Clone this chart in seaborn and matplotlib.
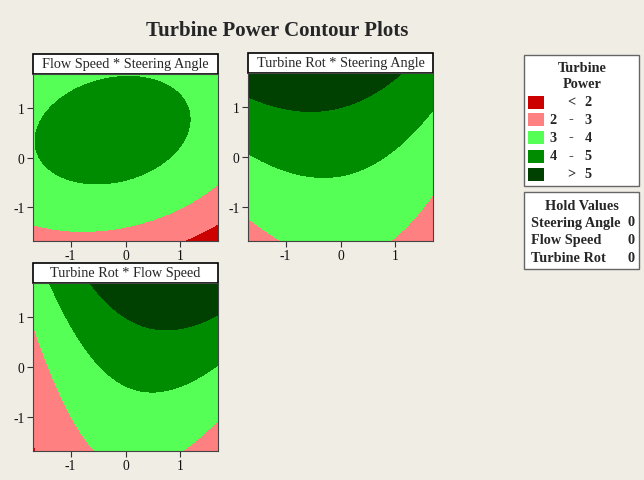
import numpy as np
import matplotlib
matplotlib.use('Agg')
import matplotlib.pyplot as plt
from matplotlib.patches import Rectangle
import seaborn as sns

# fitted response surface, coded units (flow, steer, rot)
intercept = 4.261
linear = [0.410, -0.157, 0.704]          # flow, steer, rot
quadratic = [-0.349, -0.206, 0.044]      # flow^2, steer^2, rot^2
interaction = [0.109, 0.144, -0.072]     # flow*steer, flow*rot, steer*rot

panel_names = ['Flow Speed * Steering Angle', 'Turbine Rot * Steering Angle', 'Turbine Rot * Flow Speed']
levels = [2, 3, 4, 5]
legend_rows = [('', '<', '2'), ('2', '-', '3'), ('3', '-', '4'), ('4', '-', '5'), ('', '>', '5')]
hold_names = ['Steering Angle', 'Flow Speed', 'Turbine Rot']
hold_values = [0, 0, 0]
ticks = [-1, 0, 1]


def power(f, s, t):
    return (intercept + linear[0]*f + linear[1]*s + linear[2]*t
            + quadratic[0]*f*f + quadratic[1]*s*s + quadratic[2]*t*t
            + interaction[0]*f*s + interaction[1]*f*t + interaction[2]*s*t)


bg = '#F0EDE5'
colors = sns.color_palette(['#CC0000', '#FF8080', '#55FF55', '#008C00', '#004000'])
sns.set_style('white')
plt.rcParams['font.family'] = ['Liberation Serif', 'DejaVu Serif']
plt.rcParams['axes.unicode_minus'] = False

fig = plt.figure(figsize=(6.44, 4.81), dpi=100, facecolor=bg)


def box(px0, py0, px1, py1):
    return [px0/644, 1 - py1/481, (px1-px0)/644, (py1-py0)/481]


lim = 1.682
g = np.linspace(-lim, lim, 300)
xx, yy = np.meshgrid(g, g)
surfaces = [power(yy, xx, hold_values[2]), power(hold_values[1], xx, yy), power(xx, hold_values[0], yy)]
positions = [box(33, 75, 218, 242), box(248, 74, 433, 242), box(33, 284, 218, 452)]

for name, pos, z in zip(panel_names, positions, surfaces):
    ax = fig.add_axes(pos)
    ax.contourf(xx, yy, z, levels=[-100] + levels + [100], colors=colors)
    ax.set_xlim(-lim, lim)
    ax.set_ylim(-lim, lim)
    ax.set_xticks(ticks)
    ax.set_yticks(ticks)
    ax.tick_params(length=4, width=0.8, color='#333333', labelsize=9.8, labelcolor='#111111',
                   pad=2, direction='out', bottom=True, left=True)
    for sp in ax.spines.values():
        sp.set_color('#444444')
        sp.set_linewidth(0.8)
    ax.add_patch(Rectangle((0, 1), 1, 0.12, transform=ax.transAxes, clip_on=False,
                           fc='white', ec='black', lw=1.2))
    ax.text(0.5, 1.06, name, transform=ax.transAxes, ha='center', va='center', fontsize=10.3)

fig.text(277/644, 1 - 31/481, 'Turbine Power Contour Plots', ha='center', va='center',
         fontsize=15, fontweight='bold')


def fx(px):
    return px/644


def fy(py):
    return 1 - py/481


fs = 10.3
# legend box
fig.patches.append(Rectangle((fx(524), fy(187)), fx(639)-fx(524), fy(56)-fy(187),
                             transform=fig.transFigure, fc='white', ec='#666666', lw=1))
fig.text(fx(582), fy(69), 'Turbine', ha='center', va='center', fontsize=fs, fontweight='bold')
fig.text(fx(582), fy(85), 'Power', ha='center', va='center', fontsize=fs, fontweight='bold')
row_y = [103, 120, 138, 157, 175]
for (lo, sym, hi), c, py in zip(legend_rows, colors, row_y):
    fig.patches.append(Rectangle((fx(528), fy(py + 6.5)), fx(544)-fx(528), fy(py - 6.5)-fy(py + 6.5),
                                 transform=fig.transFigure, fc=c, ec='none'))
    fig.text(fx(553), fy(py), lo, ha='center', va='center', fontsize=fs, fontweight='bold')
    fig.text(fx(571), fy(py), sym, ha='center', va='center', fontsize=fs, fontweight='bold')
    fig.text(fx(588), fy(py), hi, ha='center', va='center', fontsize=fs, fontweight='bold')

# hold values box
fig.patches.append(Rectangle((fx(524), fy(270)), fx(639)-fx(524), fy(193)-fy(270),
                             transform=fig.transFigure, fc='white', ec='#666666', lw=1))
fig.text(fx(582), fy(206), 'Hold Values', ha='center', va='center', fontsize=fs, fontweight='bold')
for name, val, py in zip(hold_names, hold_values, [223, 241, 259]):
    fig.text(fx(531), fy(py), name, ha='left', va='center', fontsize=fs, fontweight='bold')
    fig.text(fx(635), fy(py), str(val), ha='right', va='center', fontsize=fs, fontweight='bold')

fig.savefig('out.png', dpi=100, facecolor=bg)
